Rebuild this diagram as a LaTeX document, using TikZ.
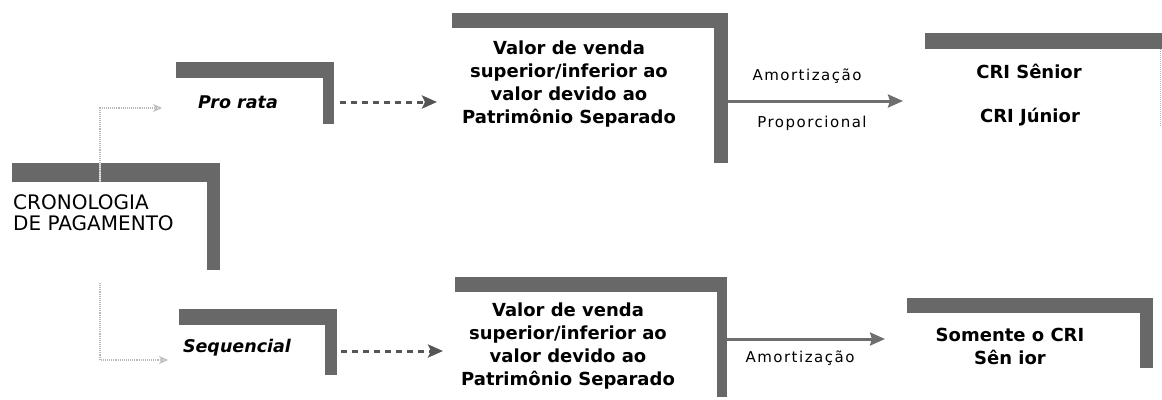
\documentclass[tikz,border=0pt]{standalone}
\usepackage{fontspec}
\setmainfont{DejaVu Sans}
\newfontfamily\spaced[LetterSpace=10]{DejaVu Sans}
\usetikzlibrary{arrows.meta}
\definecolor{barc}{RGB}{104,104,104}
\definecolor{arrc}{RGB}{110,110,110}
\definecolor{dashc}{RGB}{85,85,85}
\definecolor{dotc}{RGB}{185,185,185}
\newcommand\lbar[3]{%
  \fill[barc] (#1.north west) rectangle ([yshift=-#2pt]#1.north east);
  \fill[barc] ([xshift=-#3pt]#1.north east) rectangle (#1.south east);}
\tikzset{
  boxarea/.style={draw=none, inner sep=0pt, outer sep=0pt, anchor=north west},
  maintext/.style={font=\fontsize{18}{23}\selectfont\bfseries, align=center, inner sep=0pt},
  crontext/.style={font=\fontsize{20}{21}\selectfont, align=left, inner sep=0pt, anchor=west},
  itext/.style={font=\fontsize{17.5}{22}\selectfont\bfseries\itshape, inner sep=0pt},
  restext/.style={font=\fontsize{18}{23}\selectfont\bfseries, align=center, inner sep=0pt},
  lbltext/.style={font=\fontsize{15}{17}\selectfont\spaced, inner sep=0pt},
  dasharrow/.style={draw=dashc, line width=3pt, dash pattern=on 6pt off 5pt,
    -{Stealth[length=15pt, width=13pt, inset=3pt]}},
  solidarrow/.style={draw=arrc, line width=3pt,
    -{Stealth[length=15pt, width=13pt, inset=2pt]}},
  dotarrow/.style={draw=dotc, line width=1.1pt, densely dotted,
    -{Stealth[length=9pt, width=8pt, open]}},
}
\begin{document}
\begin{tikzpicture}[x=1pt, y=-1pt]
\useasboundingbox (0,0) rectangle (1162,399);
% boxes
\node[boxarea, minimum width=208pt, minimum height=107pt] (cron) at (12,163) {};
\node[boxarea, minimum width=158pt, minimum height=62pt] (pro) at (176,62) {};
\node[boxarea, minimum width=158pt, minimum height=66pt] (seq) at (179,309) {};
\node[boxarea, minimum width=276pt, minimum height=150pt] (val1) at (452,13) {};
\node[boxarea, minimum width=272pt, minimum height=120pt] (val2) at (455,277) {};
\node[boxarea, minimum width=237pt, minimum height=94pt] (sen) at (925,33) {};
\node[boxarea, minimum width=246pt, minimum height=70pt] (som) at (907,298) {};
\lbar{cron}{19}{13}
\lbar{pro}{16}{11}
\lbar{seq}{16}{12}
\lbar{val1}{15}{14}
\lbar{val2}{15}{10}
\lbar{som}{15}{13}
\fill[barc] (sen.north west) rectangle ([yshift=-16pt]sen.north east);
\draw[dotc, densely dotted, line width=1pt] ([xshift=-2pt,yshift=-16pt]sen.north east) -- ([xshift=-2pt]sen.south east);
% texts
\node[crontext] (ct) at (13,213) {CRONOLOGIA\\DE PAGAMENTO};
\node[itext] (pt) at (238,102) {Pro rata};
\node[itext] (st) at (237,348) {Sequencial};
\node[maintext] (v1t) at (569,84) {Valor de venda\\superior/inferior ao\\valor devido ao\\Patrimônio Separado};
\node[maintext] (v2t) at (568,346) {Valor de venda\\superior/inferior ao\\valor devido ao\\Patrimônio Separado};
\node[lbltext] (am1) at (807,76) {Amortização};
\node[lbltext] (prop) at (812,123) {Proporcional};
\node[lbltext] (am2) at (800,358) {Amortização};
\node[restext] (sen1) at (1029,71) {CRI Sênior};
\node[restext] (jun1) at (1030,117) {CRI Júnior};
\node[restext] (somt) at (1010,346) {Somente o CRI\\Sên ior};
% connectors
\coordinate (d1s) at ([xshift=88pt,yshift=-19pt]cron.north west);
\coordinate (d1e) at (162,108);
\coordinate (d2e) at (168,360);
\draw[white!85!gray, line width=2.5pt] (d1s) -- ([xshift=88pt]cron.north west);
\draw[dotarrow] (d1s) |- (d1e);
\draw[dotarrow] ([xshift=88pt,yshift=-13pt]cron.south west) |- (d2e);
\draw[dasharrow, shorten <=6pt, shorten >=15pt] (pt -| pro.east) -- (pt -| val1.west);
\draw[dasharrow, shorten <=4pt, shorten >=12pt] ([yshift=-3pt]st -| seq.east) -- ([yshift=-3pt]st -| val2.west);
\coordinate (r1) at (0,101);
\coordinate (r2) at (0,339);
\draw[solidarrow, shorten >=22pt] (r1 -| val1.east) -- (r1 -| sen.west);
\draw[solidarrow, shorten >=22pt] (r2 -| val2.east) -- (r2 -| som.west);
\end{tikzpicture}
\end{document}
